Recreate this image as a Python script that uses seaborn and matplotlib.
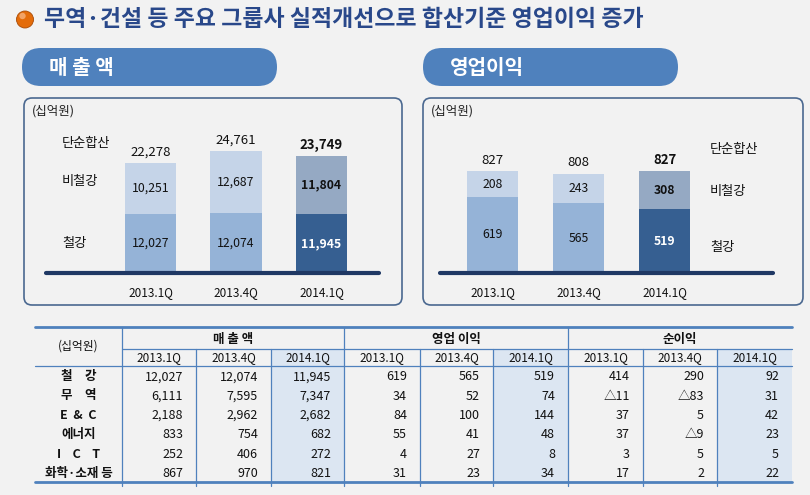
import numpy as np
import pandas as pd
import matplotlib.pyplot as plt
import seaborn as sns
from matplotlib.patches import FancyBboxPatch, Circle, Rectangle

sns.set_theme(style='white')
plt.rcParams['font.family'] = ['Noto Sans CJK KR', 'DejaVu Sans']

# chart data
periods = ['2013.1Q', '2013.4Q', '2014.1Q']
sales_steel = [12027, 12074, 11945]
sales_nonsteel = [10251, 12687, 11804]
sales_total = [22278, 24761, 23749]
op_steel = [619, 565, 519]
op_nonsteel = [208, 243, 308]
op_total = [827, 808, 827]

# table data (rows = business segment, cols = periods)
row_labels = ['철\u3000강', '무\u3000역', 'E  &  C', '에너지', 'I    C    T', '화학·소재 등']
sales_rows = [[12027, 12074, 11945], [6111, 7595, 7347], [2188, 2962, 2682],
              [833, 754, 682], [252, 406, 272], [867, 970, 821]]
op_rows = [[619, 565, 519], [34, 52, 74], [84, 100, 144],
           [55, 41, 48], [4, 27, 8], [31, 23, 34]]
net_rows = [[414, 290, 92], [-11, -83, 31], [37, 5, 42],
            [37, -9, 23], [3, 5, 5], [17, 2, 22]]
group_titles = ['매 출 액', '영업 이익', '순이익']

title = '무역·건설 등 주요 그룹사 실적개선으로 합산기준 영업이익 증가'

# colours
navy = '#1F3864'
pill_blue = '#4F81BD'
light_top = '#C5D4E8'
light_bot = '#95B3D7'
dark_top = '#95A9C3'
dark_bot = '#365F91'
line_blue = '#4F81BD'
title_blue = '#29488A'

W, H = 810, 495
fig = plt.figure(figsize=(W / 100, H / 100), dpi=100)
fig.patch.set_facecolor('#F2F2F2')

# background axes in pixel units for the layout pieces
bg = fig.add_axes([0, 0, 1, 1])
bg.set_xlim(0, W)
bg.set_ylim(H, 0)
bg.axis('off')


def px_axes(x0, y0, x1, y1):
    return fig.add_axes([x0 / W, 1 - y1 / H, (x1 - x0) / W, (y1 - y0) / H])


# title with orange ball
bg.add_patch(Circle((25, 19.5), 8.5, fc='#E46C0A', ec='#A84A05', lw=0.6))
bg.add_patch(Circle((22.5, 16), 3.2, fc='#F7B27D', ec='none', alpha=0.8))
bg.text(44, 20, title, fontsize=16.5, weight='bold', color=title_blue, va='center')

# section pills
for x0, label in [(22, '매 출 액'), (423, '영업이익')]:
    bg.add_patch(FancyBboxPatch((x0, 48), 255, 38, boxstyle='round,pad=0,rounding_size=19',
                                fc=pill_blue, ec='none'))
    bg.text(x0 + 27, 67, label, fontsize=14.5, weight='bold', color='white', va='center')

# chart frames
for x0, x1 in [(24, 402), (423, 803)]:
    bg.add_patch(FancyBboxPatch((x0, 98), x1 - x0, 207, boxstyle='round,pad=0,rounding_size=8',
                                fc='none', ec='#4A6890', lw=1.2))
    bg.text(x0 + 8, 111, '(십억원)', fontsize=9, va='center', color='#222222')


def fmt(v):
    return f'{v:,}' if v >= 0 else f'△{-v}'


def stacked(ax, steel, nonsteel, total, ymax, xlim):
    df = pd.DataFrame({'period': periods, 'steel': steel, 'total': total})
    sns.barplot(data=df, x='period', y='total', hue='period',
                palette=[light_top, light_top, dark_top], width=0.6, saturation=1,
                linewidth=0, legend=False, ax=ax)
    sns.barplot(data=df, x='period', y='steel', hue='period',
                palette=[light_bot, light_bot, dark_bot], width=0.6, saturation=1,
                linewidth=0, legend=False, ax=ax)
    for i in range(len(periods)):
        last = i == len(periods) - 1
        w = 'bold' if last else 'normal'
        ax.text(i, steel[i] / 2, fmt(steel[i]), ha='center', va='center', fontsize=8.8,
                weight=w, color='white' if last else '#111111')
        ax.text(i, steel[i] + nonsteel[i] / 2, fmt(nonsteel[i]), ha='center', va='center',
                fontsize=8.8, weight=w, color='#111111')
        ax.annotate(fmt(total[i]), (i, total[i]), xytext=(0, 3), textcoords='offset points',
                    ha='center', va='bottom', fontsize=9.5, weight=w, color='#111111')
    ax.axhline(0, color=navy, lw=3, clip_on=False)
    ax.set_xlim(*xlim)
    ax.set_ylim(0, ymax)
    ax.set_facecolor('none')
    sns.despine(ax=ax, left=True, bottom=True)
    ax.set_yticks([])
    ax.set_xlabel('')
    ax.set_ylabel('')
    ax.tick_params(axis='x', length=0, pad=9.5, labelsize=8.5, labelcolor='#111111')


ax1 = px_axes(46, 133, 379, 273)
stacked(ax1, sales_steel, sales_nonsteel, sales_total, 28400, (-1.222, 2.672))
ax2 = px_axes(440, 133, 773, 273)
stacked(ax2, op_steel, op_nonsteel, op_total, 1138, (-0.61, 3.26))

# series labels beside the bars
for x, ys in [(62, (143, 182, 244)), (710, (150, 192, 247))]:
    for y, lab in zip(ys, ['단순합산', '비철강', '철강']):
        bg.text(x, y, lab, fontsize=9.5, va='center', color='#111111')

# table
xs = [35, 122, 196, 271, 344, 420, 493, 568, 643, 717, 792]
y_top, y_grp, y_year, y_bot = 327, 349, 366, 482
row_h = (y_bot - y_year) / len(row_labels)

for g in range(3):
    xa, xb = xs[1 + 3 * g + 2], xs[1 + 3 * g + 3]
    bg.add_patch(Rectangle((xa, y_grp), xb - xa, y_bot - y_grp, fc='#DCE6F2', ec='none'))

bg.plot([xs[0], xs[-1]], [y_top, y_top], color=line_blue, lw=2)
bg.plot([xs[0], xs[-1]], [y_bot, y_bot], color=line_blue, lw=2)
bg.plot([xs[1], xs[-1]], [y_grp, y_grp], color=line_blue, lw=0.9)
bg.plot([xs[0], xs[-1]], [y_year, y_year], color=line_blue, lw=0.9)
for k, x in enumerate(xs[1:-1]):
    top = y_top if k % 3 == 0 else y_grp
    bg.plot([x, x], [top, y_bot + 4], color=line_blue, lw=0.9)

bg.text((xs[0] + xs[1]) / 2, (y_top + y_year) / 2, '(십억원)', ha='center', va='center',
        fontsize=8.5, color='#111111')
for g, (gt, rows) in enumerate(zip(group_titles, [sales_rows, op_rows, net_rows])):
    c0 = xs[1 + 3 * g]
    c3 = xs[1 + 3 * g + 3]
    bg.text((c0 + c3) / 2, (y_top + y_grp) / 2 + 1, gt, ha='center', va='center',
            fontsize=9, weight='bold', color='#111111')
    for j, p in enumerate(periods):
        xa, xb = xs[1 + 3 * g + j], xs[1 + 3 * g + j + 1]
        bg.text((xa + xb) / 2, (y_grp + y_year) / 2, p, ha='center', va='center',
                fontsize=8.5, color='#111111')
        for r, row in enumerate(rows):
            bg.text(xb - 13, y_year + row_h * (r + 0.5) + 1, fmt(row[j]), ha='right',
                    va='center', fontsize=9, color='#111111')

for r, lab in enumerate(row_labels):
    bg.text((xs[0] + xs[1]) / 2, y_year + row_h * (r + 0.5) + 1, lab, ha='center',
            va='center', fontsize=9, weight='bold', color='#111111')

fig.savefig('out.png', dpi=100, facecolor=fig.get_facecolor())
